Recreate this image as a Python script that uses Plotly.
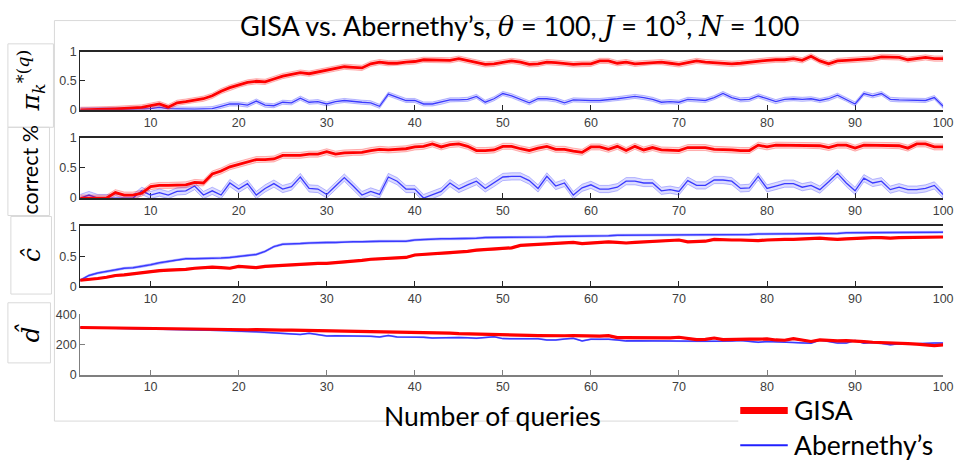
import plotly.graph_objects as go

# ---------------------------------------------------------------- data
queries = list(range(2, 101))

pi_gisa = [0.00, 0.00, 0.005, 0.01, 0.015, 0.02, 0.03, 0.04, 0.07,
           0.10, 0.045, 0.12, 0.14, 0.17, 0.19, 0.24, 0.32, 0.38, 0.43,
           0.47, 0.49, 0.48, 0.53, 0.58, 0.61, 0.64, 0.62, 0.65, 0.68,
           0.71, 0.74, 0.73, 0.72, 0.79, 0.82, 0.80, 0.80, 0.82, 0.83,
           0.86, 0.86, 0.85, 0.85, 0.88, 0.85, 0.81, 0.78, 0.79, 0.82,
           0.84, 0.82, 0.78, 0.79, 0.82, 0.81, 0.80, 0.78, 0.79, 0.79,
           0.84, 0.84, 0.80, 0.82, 0.79, 0.80, 0.82, 0.82, 0.80, 0.78,
           0.81, 0.84, 0.82, 0.81, 0.80, 0.79, 0.80, 0.82, 0.84, 0.85,
           0.86, 0.86, 0.88, 0.85, 0.92, 0.84, 0.79, 0.84, 0.85, 0.86,
           0.87, 0.88, 0.91, 0.91, 0.90, 0.86, 0.88, 0.90, 0.88, 0.88]

pi_aber = [0.00, 0.00, 0.00, 0.00, 0.00, 0.005, 0.01, 0.015, 0.02,
           0.04, 0.02, 0.015, 0.01, 0.01, 0.015, 0.02, 0.06, 0.10, 0.10,
           0.08, 0.15, 0.08, 0.07, 0.13, 0.12, 0.20, 0.13, 0.14, 0.10,
           0.14, 0.16, 0.14, 0.13, 0.12, 0.06, 0.27, 0.21, 0.16, 0.16,
           0.10, 0.10, 0.13, 0.17, 0.17, 0.18, 0.23, 0.13, 0.19, 0.28,
           0.24, 0.18, 0.12, 0.19, 0.19, 0.17, 0.12, 0.17, 0.16, 0.16,
           0.16, 0.17, 0.19, 0.21, 0.23, 0.21, 0.18, 0.13, 0.14, 0.13,
           0.18, 0.17, 0.16, 0.21, 0.28, 0.21, 0.17, 0.18, 0.24, 0.19,
           0.14, 0.18, 0.19, 0.18, 0.19, 0.16, 0.19, 0.25, 0.18, 0.10,
           0.28, 0.24, 0.28, 0.18, 0.17, 0.17, 0.17, 0.16, 0.21, 0.06]

correct_gisa = [0.00, 0.00, 0.00, 0.00, 0.09, 0.05, 0.05, 0.08, 0.19,
                0.21, 0.21, 0.21, 0.22, 0.26, 0.25, 0.40, 0.45, 0.52, 0.56,
                0.60, 0.64, 0.64, 0.65, 0.71, 0.71, 0.71, 0.73, 0.73, 0.77,
                0.73, 0.75, 0.76, 0.76, 0.79, 0.81, 0.80, 0.81, 0.82, 0.85,
                0.86, 0.90, 0.85, 0.89, 0.90, 0.86, 0.79, 0.79, 0.80, 0.86,
                0.86, 0.82, 0.79, 0.83, 0.86, 0.81, 0.81, 0.78, 0.76, 0.85,
                0.85, 0.81, 0.86, 0.79, 0.86, 0.80, 0.84, 0.80, 0.79, 0.79,
                0.84, 0.84, 0.84, 0.81, 0.81, 0.80, 0.79, 0.79, 0.88, 0.85,
                0.88, 0.88, 0.88, 0.88, 0.88, 0.87, 0.84, 0.88, 0.88, 0.83,
                0.88, 0.88, 0.88, 0.88, 0.87, 0.83, 0.90, 0.90, 0.85, 0.85]

correct_aber = [0.00, 0.05, 0.00, 0.00, 0.00, 0.00, 0.00, 0.12, 0.05,
                0.09, 0.05, 0.11, 0.12, 0.20, 0.05, 0.12, 0.05, 0.25, 0.15,
                0.24, 0.05, 0.16, 0.24, 0.15, 0.19, 0.35, 0.16, 0.15, 0.06,
                0.20, 0.34, 0.20, 0.05, 0.11, 0.06, 0.35, 0.28, 0.15, 0.15,
                0.00, 0.05, 0.11, 0.25, 0.15, 0.22, 0.28, 0.16, 0.25, 0.35,
                0.36, 0.36, 0.29, 0.16, 0.36, 0.20, 0.25, 0.05, 0.17, 0.22,
                0.15, 0.15, 0.18, 0.28, 0.28, 0.25, 0.25, 0.12, 0.14, 0.11,
                0.29, 0.21, 0.21, 0.30, 0.30, 0.28, 0.16, 0.17, 0.36, 0.16,
                0.20, 0.24, 0.24, 0.18, 0.21, 0.14, 0.27, 0.41, 0.25, 0.12,
                0.33, 0.25, 0.28, 0.14, 0.18, 0.14, 0.14, 0.16, 0.21, 0.06]

c_gisa = [0.10, 0.11, 0.13, 0.15, 0.18, 0.19, 0.21, 0.23, 0.25,
          0.26, 0.27, 0.27, 0.28, 0.30, 0.31, 0.32, 0.31, 0.30, 0.33,
          0.32, 0.31, 0.33, 0.34, 0.35, 0.35, 0.36, 0.37, 0.38, 0.38,
          0.39, 0.40, 0.42, 0.43, 0.45, 0.46, 0.47, 0.47, 0.48, 0.52,
          0.53, 0.54, 0.55, 0.55, 0.57, 0.58, 0.60, 0.61, 0.61, 0.62,
          0.64, 0.68, 0.69, 0.69, 0.70, 0.71, 0.72, 0.73, 0.71, 0.72,
          0.73, 0.74, 0.73, 0.72, 0.73, 0.74, 0.74, 0.75, 0.76, 0.77,
          0.74, 0.75, 0.75, 0.78, 0.77, 0.77, 0.77, 0.76, 0.76, 0.77,
          0.78, 0.78, 0.78, 0.79, 0.79, 0.80, 0.79, 0.78, 0.79, 0.80,
          0.80, 0.81, 0.81, 0.80, 0.81, 0.81, 0.81, 0.82, 0.82, 0.82]

c_aber = [0.10, 0.18, 0.22, 0.25, 0.27, 0.30, 0.31, 0.33, 0.36,
          0.39, 0.41, 0.44, 0.46, 0.46, 0.46, 0.47, 0.47, 0.48, 0.50,
          0.51, 0.53, 0.58, 0.66, 0.70, 0.70, 0.71, 0.72, 0.73, 0.73,
          0.73, 0.74, 0.74, 0.74, 0.75, 0.75, 0.75, 0.75, 0.75, 0.77,
          0.78, 0.79, 0.79, 0.79, 0.79, 0.79, 0.80, 0.81, 0.81, 0.81,
          0.81, 0.81, 0.82, 0.82, 0.82, 0.83, 0.83, 0.84, 0.84, 0.84,
          0.84, 0.84, 0.85, 0.85, 0.85, 0.85, 0.85, 0.86, 0.86, 0.86,
          0.86, 0.86, 0.86, 0.86, 0.86, 0.86, 0.86, 0.86, 0.87, 0.87,
          0.87, 0.87, 0.87, 0.88, 0.88, 0.88, 0.88, 0.88, 0.89, 0.89,
          0.89, 0.89, 0.89, 0.90, 0.90, 0.90, 0.90, 0.90, 0.90, 0.90]

d_gisa = [313, 312, 312, 311, 311, 310, 309, 308, 307,
          306, 305, 305, 304, 303, 302, 301, 300, 299, 298,
          298, 299, 296, 296, 295, 295, 294, 293, 294, 293,
          292, 291, 290, 289, 287, 285, 285, 283, 282, 280,
          279, 278, 277, 275, 272, 270, 267, 268, 267, 263,
          262, 261, 260, 259, 257, 257, 258, 259, 257, 257,
          256, 259, 246, 245, 244, 246, 246, 245, 244, 248,
          242, 232, 234, 243, 232, 234, 239, 236, 235, 237,
          230, 228, 239, 228, 220, 230, 226, 224, 225, 224,
          219, 215, 214, 212, 209, 206, 202, 198, 193, 197]

d_aber = [313, 312, 311, 310, 309, 307, 306, 304, 302,
          301, 300, 299, 298, 297, 296, 295, 293, 291, 287,
          286, 285, 281, 277, 274, 271, 267, 274, 268, 257,
          258, 258, 257, 256, 254, 250, 259, 250, 250, 250,
          248, 243, 245, 246, 246, 244, 241, 246, 252, 239,
          239, 239, 238, 238, 230, 230, 236, 241, 224, 235,
          234, 235, 230, 224, 225, 224, 226, 226, 223, 222,
          222, 220, 221, 222, 220, 223, 226, 222, 215, 220,
          218, 217, 215, 209, 209, 230, 220, 209, 209, 226,
          209, 213, 208, 198, 205, 202, 205, 209, 209, 209]

# half-widths of the shaded uncertainty bands (GISA, Abernethy's)
band_pi = (0.045, 0.035)
band_correct = (0.05, 0.06)
band_c = (0.012, 0.015)
band_d = (4, 3)

x_ticks = [10, 20, 30, 40, 50, 60, 70, 80, 90, 100]

# ---------------------------------------------------------------- layout helpers
W, H = 966, 463


def fx(px):
    return px / W


def fy(px):
    return 1 - px / H


RED = "#ff0000"
BLUE = "#3a3aff"
RED_FILL = "rgba(255,0,0,0.16)"
RED_EDGE = "rgba(255,0,0,0.28)"
BLUE_FILL = "rgba(40,40,255,0.16)"
BLUE_EDGE = "rgba(40,40,255,0.30)"

panels = [
    # gisa, aber, band, top px, bottom px, y range, y ticks, boxed, widths
    (pi_gisa, pi_aber, band_pi, 46, 106, [0, 1], [0, 0.5, 1], True, (2.8, 1.3)),
    (correct_gisa, correct_aber, band_correct, 135, 197, [0, 1], [0, 0.5, 1], True, (2.8, 1.3)),
    (c_gisa, c_aber, band_c, 226, 288, [0, 1], [0, 0.5, 1], True, (3.2, 1.5)),
    (d_gisa, d_aber, band_d, 317, 379, [0, 400], [0, 200, 400], False, (3.2, 1.5)),
]

fig = go.Figure()
layout_axes = {}

for i, (g, a, hw, top, bot, yr, yt, boxed, lws) in enumerate(panels, start=1):
    xa = "x" if i == 1 else f"x{i}"
    ya = "y" if i == 1 else f"y{i}"
    for vals, w, fill, edge, col, lw in (
        (a, hw[1], BLUE_FILL, BLUE_EDGE, BLUE, lws[1]),
        (g, hw[0], RED_FILL, RED_EDGE, RED, lws[0]),
    ):
        upper = [v + w for v in vals]
        lower = [v - w for v in vals]
        fig.add_trace(go.Scatter(
            x=queries + queries[::-1], y=upper + lower[::-1],
            fill="toself", fillcolor=fill, line=dict(color=edge, width=1),
            mode="lines", hoverinfo="skip", showlegend=False,
            xaxis=xa, yaxis=ya))
        fig.add_trace(go.Scatter(
            x=queries, y=vals, mode="lines",
            line=dict(color=col, width=lw),
            showlegend=False, xaxis=xa, yaxis=ya))

    axis_col = "#262626" if boxed else "#7f7f7f"
    tickfont = dict(family="Liberation Sans, Arial", size=12.5, color="#404040")
    layout_axes["xaxis" if i == 1 else f"xaxis{i}"] = dict(
        domain=[fx(81), fx(953)], range=[2, 100], anchor=ya,
        tickvals=x_ticks, ticks="inside", ticklen=5, tickcolor=axis_col,
        showline=True, linecolor=axis_col, linewidth=2 if boxed else 1.5,
        mirror=boxed, showgrid=False, zeroline=False, layer="below traces",
        tickfont=tickfont, fixedrange=True)
    layout_axes["yaxis" if i == 1 else f"yaxis{i}"] = dict(
        domain=[fy(bot), fy(top)], range=yr, anchor=xa,
        tickvals=yt, ticks="inside", ticklen=5, tickcolor=axis_col,
        showline=True, linecolor=axis_col, linewidth=1,
        showgrid=False, zeroline=False, layer="below traces",
        tickfont=tickfont, fixedrange=True)

# ---------------------------------------------------------------- decorations
frame = "#d9d9d9"
shapes = [
    # outer frame around the plot block
    dict(type="line", x0=fx(55), x1=fx(966), y0=fy(14), y1=fy(14)),
    dict(type="line", x0=fx(55), x1=fx(55), y0=fy(14), y1=fy(427)),
    dict(type="line", x0=fx(55), x1=fx(746), y0=fy(427), y1=fy(427)),
    # label boxes
    dict(type="rect", x0=fx(8), x1=fx(54), y0=fy(38), y1=fy(124)),
    dict(type="rect", x0=fx(8), x1=fx(50), y0=fy(124), y1=fy(215)),
    dict(type="rect", x0=fx(11), x1=fx(52), y0=fy(216), y1=fy(296)),
    dict(type="rect", x0=fx(8), x1=fx(51), y0=fy(305), y1=fy(367)),
]
for s in shapes:
    s.update(xref="paper", yref="paper", line=dict(color=frame, width=1))

# legend keys
shapes += [
    dict(type="line", xref="paper", yref="paper", x0=fx(748), x1=fx(796),
         y0=fy(416), y1=fy(416), line=dict(color=RED, width=7)),
    dict(type="line", xref="paper", yref="paper", x0=fx(748), x1=fx(796),
         y0=fy(452), y1=fy(452), line=dict(color="#2020ff", width=2)),
]

serif = "DejaVu Serif, Liberation Serif"
sans = "Lato, Open Sans, sans-serif"
math = lambda s: f'<span style="font-family:{serif}"><i>{s}</i></span>'

annotations = [
    dict(text=("GISA vs. Abernethy’s, " + math("θ") + " = 100, " + math("J")
               + " = 10<sup>3</sup>, " + math("N") + " = 100"),
         x=fx(525), y=fy(18), font=dict(family=sans, size=27, color="#000")),
    dict(text=f'<i>π</i><sub><i>k</i></sub><sup>*(<i>q</i>)</sup>',
         x=fx(31), y=fy(76), textangle=-90,
         font=dict(family=serif, size=25, color="#000")),
    dict(text="correct %", x=fx(30), y=fy(168), textangle=-90,
         font=dict(family=sans, size=21.5, color="#000")),
    dict(text="<i>ĉ</i>", x=fx(32), y=fy(256), textangle=-90,
         font=dict(family=serif, size=25, color="#000")),
    dict(text="<i>d̂</i>", x=fx(30), y=fy(336), textangle=-90,
         font=dict(family=serif, size=25, color="#000")),
    dict(text="Number of queries", x=fx(498), y=fy(422),
         font=dict(family=sans, size=26.5, color="#000")),
    dict(text="GISA", x=fx(800), y=fy(416), xanchor="left",
         font=dict(family=sans, size=26.5, color="#000")),
    dict(text="Abernethy’s", x=fx(800), y=fy(452), xanchor="left",
         font=dict(family=sans, size=26.5, color="#000")),
]
for a in annotations:
    a.update(xref="paper", yref="paper", showarrow=False)
    a.setdefault("xanchor", "center")
    a.setdefault("yanchor", "middle")

fig.update_layout(
    width=W, height=H, margin=dict(l=0, r=0, t=0, b=0),
    paper_bgcolor="white", plot_bgcolor="white",
    shapes=shapes, annotations=annotations, showlegend=False,
    **layout_axes)

fig.write_html("out.html")
